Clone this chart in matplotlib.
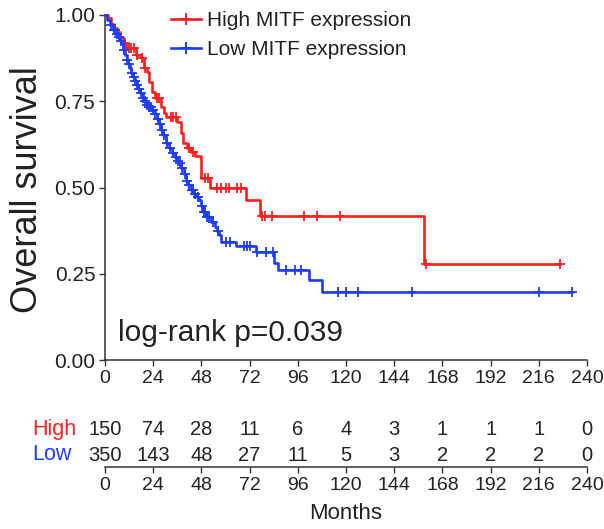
import numpy as np
import matplotlib
matplotlib.use("Agg")
import matplotlib.pyplot as plt
from matplotlib.lines import Line2D

plt.rcParams['font.family'] = ['Liberation Sans', 'DejaVu Sans']

# ---------------- data ----------------
high_times = [0, 1.5, 3, 4.5, 6, 7.5, 9, 10.5, 15.5, 18, 19.5, 21, 22, 23.5, 25, 28,
              29.5, 30.5, 36, 38, 39, 41, 43, 45, 47.8, 52.5, 70, 77, 159, 226.6]
high_surv = [1.0, 0.99, 0.975, 0.962, 0.95, 0.936, 0.918, 0.904, 0.884, 0.875, 0.846, 0.835,
             0.806, 0.777, 0.76, 0.733, 0.716, 0.704, 0.69, 0.658, 0.63, 0.614, 0.603, 0.59,
             0.527, 0.50, 0.464, 0.418, 0.278, 0.278]
high_censor = [10, 12, 13, 14.5, 16, 18.5, 20, 26, 27, 33, 34, 35.5, 42, 44, 50, 51.5,
               56, 58, 60, 61.5, 65.5, 67.5, 78, 79.6, 83, 99, 105.4, 117, 159.6, 226.6]

low_times = [0, 1, 2.5, 4, 5.2, 6.4, 7.5, 8.4, 9, 10, 10.8, 11.5, 12.3, 13, 13.8, 14.8,
             15.8, 16.5, 17.2, 18.7, 19.7, 20.7, 22, 23.6, 24.8, 26, 27, 28, 29, 30.5, 32,
             33.5, 35, 36, 37, 38, 39.2, 40.4, 41.5, 43, 44.5, 46, 47, 48, 49, 50.5, 53,
             55, 56, 57, 58, 65, 75, 84, 86, 101.5, 108, 232.5]
low_surv = [1.0, 0.985, 0.97, 0.956, 0.945, 0.936, 0.926, 0.918, 0.90, 0.885, 0.87, 0.858,
            0.846, 0.833, 0.82, 0.808, 0.797, 0.785, 0.774, 0.76, 0.75, 0.74, 0.732, 0.725,
            0.712, 0.70, 0.684, 0.667, 0.652, 0.63, 0.615, 0.60, 0.588, 0.578, 0.57, 0.556,
            0.54, 0.52, 0.507, 0.493, 0.482, 0.472, 0.464, 0.447, 0.43, 0.415, 0.40, 0.386,
            0.374, 0.362, 0.342, 0.33, 0.313, 0.28, 0.26, 0.232, 0.197, 0.197]
low_censor = [3, 4.5, 5, 6, 7, 8, 9.5, 11, 12, 13.3, 14.3, 15, 16, 17, 18, 19, 20, 21, 22,
              23, 24, 25, 26.5, 27.5, 28.5, 29.5, 31, 32.5, 34, 35.5, 36.5, 37.5, 38.5, 40,
              41, 42, 43.5, 44, 45, 46.5, 48.5, 49.5, 50, 51, 52, 54, 56.5, 60, 62, 69, 70.5,
              72, 75.5, 80, 83.7, 90, 94.5, 97.5, 116, 120, 126, 153, 216, 232.5]

ticks = [0, 24, 48, 72, 96, 120, 144, 168, 192, 216, 240]
risk_high = [150, 74, 28, 11, 6, 4, 3, 1, 1, 1, 0]
risk_low = [350, 143, 48, 27, 11, 5, 3, 2, 2, 2, 0]

red = '#FF1E1E'
blue = '#1E3CFF'
txt = '#222222'

W, H = 604, 529
fig = plt.figure(figsize=(W / 100, H / 100), dpi=100)

X0, X1 = 105, 587
ax = fig.add_axes([X0 / W, 1 - 360 / H, (X1 - X0) / W, 345 / H])


def surv_at(times, surv, t):
    i = np.searchsorted(times, t, side='right') - 1
    return np.asarray(surv)[i]


for times, surv, cens, col in [(high_times, high_surv, high_censor, red),
                               (low_times, low_surv, low_censor, blue)]:
    ax.step(times, surv, where='post', color=col, lw=1.9, clip_on=False, zorder=3)
    ax.plot(cens, surv_at(times, surv, cens), ls='none', marker='+', ms=7, mew=1.3,
            color=col, clip_on=False, zorder=3)

TS = 14
ax.set_xlim(0, 240)
ax.set_ylim(0, 1)
ax.set_xticks(ticks)
ax.set_yticks([0, 0.25, 0.5, 0.75, 1.0])
ax.set_yticklabels(['0.00', '0.25', '0.50', '0.75', '1.00'])
for s in ['top', 'right']:
    ax.spines[s].set_visible(False)
for s in ['left', 'bottom']:
    ax.spines[s].set_color('#333333')
    ax.spines[s].set_linewidth(1.1)
ax.tick_params(direction='out', length=4, width=1, colors='#333333', labelcolor=txt,
               labelsize=TS, pad=3)
ax.tick_params(axis='y', labelsize=15)

fig.text(28 / W, 1 - 190 / H, 'Overall survival', rotation=90, ha='center', va='center',
         fontsize=26, color=txt)
fig.text(118 / W, 1 - 333 / H, 'log-rank p=0.039', ha='left', va='center', fontsize=21.5,
         color=txt)

handles = [Line2D([], [], color=red, lw=1.9, marker='+', ms=9, mew=1.4),
           Line2D([], [], color=blue, lw=1.9, marker='+', ms=9, mew=1.4)]
ax.legend(handles, ['High MITF expression', 'Low MITF expression'], loc='upper left',
          bbox_to_anchor=(171 / W, 1 - 11 / H), bbox_transform=fig.transFigure,
          frameon=False, fontsize=15, handlelength=1.45, handletextpad=0.3,
          labelspacing=0.5, borderpad=0, borderaxespad=0, labelcolor=txt)

# number at risk table
ax2 = fig.add_axes([X0 / W, 1 - 467 / H, (X1 - X0) / W, 47 / H])
ax2.set_xlim(0, 240)
ax2.set_ylim(0, 1)
for s in ['top', 'right', 'left']:
    ax2.spines[s].set_visible(False)
ax2.spines['bottom'].set_color('#333333')
ax2.spines['bottom'].set_linewidth(1.1)
ax2.set_yticks([])
ax2.set_xticks(ticks)
ax2.tick_params(direction='out', length=4, width=1, colors='#333333', labelcolor=txt,
                labelsize=TS, pad=3)
ax2.set_xlabel('Months', fontsize=16, color=txt, labelpad=7)
y_high, y_low = 0.79, 0.25
for t, h, l in zip(ticks, risk_high, risk_low):
    ax2.text(t, y_high, str(h), ha='center', va='center', fontsize=TS + 0.5, color=txt)
    ax2.text(t, y_low, str(l), ha='center', va='center', fontsize=TS + 0.5, color=txt)
fig.text(32 / W, 1 - 430 / H, 'High', ha='left', va='center', fontsize=15.5, color=red)
fig.text(32 / W, 1 - 455 / H, 'Low', ha='left', va='center', fontsize=15.5, color=blue)

fig.savefig('out.png', dpi=100)
